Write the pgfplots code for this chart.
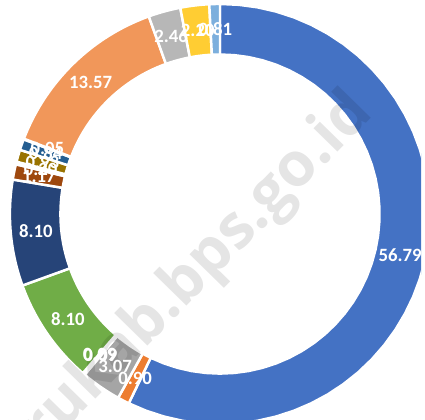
\documentclass[border=0pt]{standalone}
\usepackage{pgfplots}
\pgfplotsset{compat=1.18}
\usepackage{pgfplotstable}
\usepackage{fontspec}
\setmainfont{Carlito}
\newfontfamily\wmfont{Open Sans}

% Excel-like slice colours, in drawing order
\definecolor{s1}{HTML}{4472C4}
\definecolor{s2}{HTML}{ED7D31}
\definecolor{s3}{HTML}{A5A5A5}
\definecolor{s4}{HTML}{FFC000}
\definecolor{s5}{HTML}{5B9BD5}
\definecolor{s6}{HTML}{70AD47}
\definecolor{s7}{HTML}{264478}
\definecolor{s8}{HTML}{9E480E}
\definecolor{s9}{HTML}{636363}
\definecolor{s10}{HTML}{997300}
\definecolor{s11}{HTML}{255E91}
\definecolor{s12}{HTML}{43682B}
\definecolor{s13}{HTML}{F1975A}
\definecolor{s14}{HTML}{B7B7B7}
\definecolor{s15}{HTML}{FFCD33}
\definecolor{s16}{HTML}{7CAFDD}

\pgfplotstableread{
value
56.79
0.90
3.07
0.09
0.09
8.10
8.10
1.17
0.20
0.93
0.84
0.05
13.57
2.46
2.20
0.81
}\shares

% centre and radii of the ring (axis units = bp)
\def\cx{222}
\def\cy{207}
\def\ro{212}
\def\ri{161}

\begin{document}
\begin{tikzpicture}
\begin{axis}[
    at={(0,0)}, anchor=south west,
    scale only axis, width=425bp, height=423bp,
    xmin=0, xmax=425, ymin=0, ymax=423,
    hide axis, clip=true,
    % outline of one ring sector: outer arc, inner edge, inner arc back, outer edge
    declare function={
      ringa(\t,\a,\b)=(\t<=1) ? (\a+(\b-\a)*\t) : ((\t<=2) ? \b : ((\t<=3) ? (\b-(\b-\a)*(\t-2)) : \a));
      ringr(\t)=(\t<=1) ? \ro : ((\t<=2) ? (\ro-(\ro-\ri)*(\t-1)) : ((\t<=3) ? \ri : (\ri+(\ro-\ri)*(\t-3))));
    },
]
\addplot[draw=none, mark=none] coordinates {(0,0) (425,423)};
\pgfplotstablegetrowsof{\shares}
\pgfmathtruncatemacro\nrows{\pgfplotsretval-1}
\def\total{0}
\pgfplotsforeachungrouped \i in {0,...,\nrows}{%
  \pgfplotstablegetelem{\i}{value}\of\shares
  \pgfmathsetmacro\total{\total+\pgfplotsretval}%
}
% slices, clockwise from 12 o'clock
\def\cum{0}
\pgfplotsforeachungrouped \i in {0,...,\nrows}{%
  \pgfplotstablegetelem{\i}{value}\of\shares
  \let\v\pgfplotsretval
  \pgfmathsetmacro\aa{90-360*(\cum/\total)}%
  \pgfmathsetmacro\cum{\cum+\v}%
  \pgfmathsetmacro\bb{90-360*(\cum/\total)}%
  \pgfmathtruncatemacro\k{\i+1}%
  \edef\slice{%
    \noexpand\addplot[fill=s\k, draw=white, line width=2.5bp, line join=round,
      domain=0:4, samples=161, variable=\noexpand\t]
      ({\cx+ringr(\noexpand\t)*cos(ringa(\noexpand\t,\aa,\bb))},
       {\cy+ringr(\noexpand\t)*sin(ringa(\noexpand\t,\aa,\bb))}) -- cycle;
  }\slice
}
% data labels on the middle of the ring
\def\cum{0}
\pgfplotsforeachungrouped \i in {0,...,\nrows}{%
  \pgfplotstablegetelem{\i}{value}\of\shares
  \let\v\pgfplotsretval
  \pgfmathsetmacro\aa{90-360*(\cum/\total)}%
  \pgfmathsetmacro\cum{\cum+\v}%
  \pgfmathsetmacro\bb{90-360*(\cum/\total)}%
  \pgfmathsetmacro\lx{\cx+186.5*cos((\aa+\bb)/2)}%
  \pgfmathsetmacro\ly{\cy+186.5*sin((\aa+\bb)/2)}%
  \edef\lab{%
    \noexpand\addplot[draw=none, mark=none, nodes near coords,
      point meta=explicit symbolic,
      nodes near coords style={anchor=center, text=white,
        font=\noexpand\fontsize{19}{21}\noexpand\selectfont\noexpand\bfseries}]
      coordinates {(\lx,\ly) [\v]};
  }\lab
}
\node[rotate=45.6, text=black, opacity=0.1,
  font=\wmfont\bfseries\fontsize{62}{70}\selectfont]
  at (axis cs:163.5,111.4) {barrukab.bps.go.id};
\end{axis}
\end{tikzpicture}
\end{document}
